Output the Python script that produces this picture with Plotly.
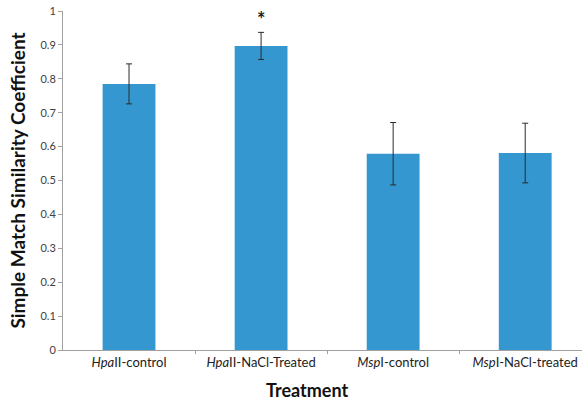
import plotly.graph_objects as go

categories = ["<i>Hpa</i>II-control", "<i>Hpa</i>II-NaCl-Treated", "<i>Msp</i>I-control", "<i>Msp</i>I-NaCl-treated"]
values = [0.785, 0.897, 0.579, 0.581]
errors = [0.059, 0.040, 0.092, 0.088]
sig_marks = ["", "*", "", ""]
y_ticks = [0, 0.1, 0.2, 0.3, 0.4, 0.5, 0.6, 0.7, 0.8, 0.9, 1]
y_tick_labels = ["0", "0.1", "0.2", "0.3", "0.4", "0.5", "0.6", "0.7", "0.8", "0.9", "1"]
x_title = "Treatment"
y_title = "Simple Match Similarity Coefficient"

x_idx = list(range(len(categories)))
FONT = "Lato, Open Sans, sans-serif"

fig = go.Figure()
fig.add_trace(go.Bar(
    x=x_idx, y=values, width=0.4,
    marker=dict(color="#3497CF", line=dict(width=0)),
    error_y=dict(type="data", array=errors, visible=True, color="#2b2b2b", thickness=1, width=3),
))

for i, (v, e, s) in enumerate(zip(values, errors, sig_marks)):
    if s:
        fig.add_annotation(x=i, y=v + e, text="<b>" + s + "</b>", showarrow=False, yanchor="bottom", yshift=-1,
                           font=dict(family=FONT, size=20, color="#222"))

# x-axis title (offset left of plot centre, as in the reference)
fig.add_annotation(xref="paper", yref="paper", x=0.47, y=-0.118, text="<b>" + x_title + "</b>",
                   showarrow=False, xanchor="center", yanchor="middle",
                   font=dict(family=FONT, size=18, color="#111"))

fig.update_layout(
    width=582, height=400,
    margin=dict(l=63, r=0, t=11, b=50),
    paper_bgcolor="white", plot_bgcolor="white",
    showlegend=False,
    font=dict(family=FONT, color="#222"),
)
fig.update_xaxes(
    range=[-0.5, 3.43],
    tickmode="array", tickvals=x_idx, ticktext=categories,
    tickfont=dict(family=FONT, size=13, color="#222"),
    showline=True, linecolor="#a0a0a0", linewidth=1,
    showgrid=False, ticks="",
    minor=dict(tickvals=[0.5, 1.5, 2.5], ticks="outside", ticklen=3, tickcolor="#a0a0a0"),
)
fig.update_yaxes(
    range=[0, 1],
    tickmode="array", tickvals=y_ticks, ticktext=y_tick_labels,
    tickfont=dict(family=FONT, size=11, color="#404040"),
    showline=True, linecolor="#a0a0a0", linewidth=1,
    ticks="outside", ticklen=4, tickcolor="#a0a0a0",
    showgrid=False, zeroline=False,
    title=dict(text="<b>" + y_title + "</b>", font=dict(family=FONT, size=19, color="#111"), standoff=9),
)

fig.write_html("out.html", config={"displayModeBar": False},
               post_script="document.body.style.margin='0';document.body.style.overflow='hidden';")
